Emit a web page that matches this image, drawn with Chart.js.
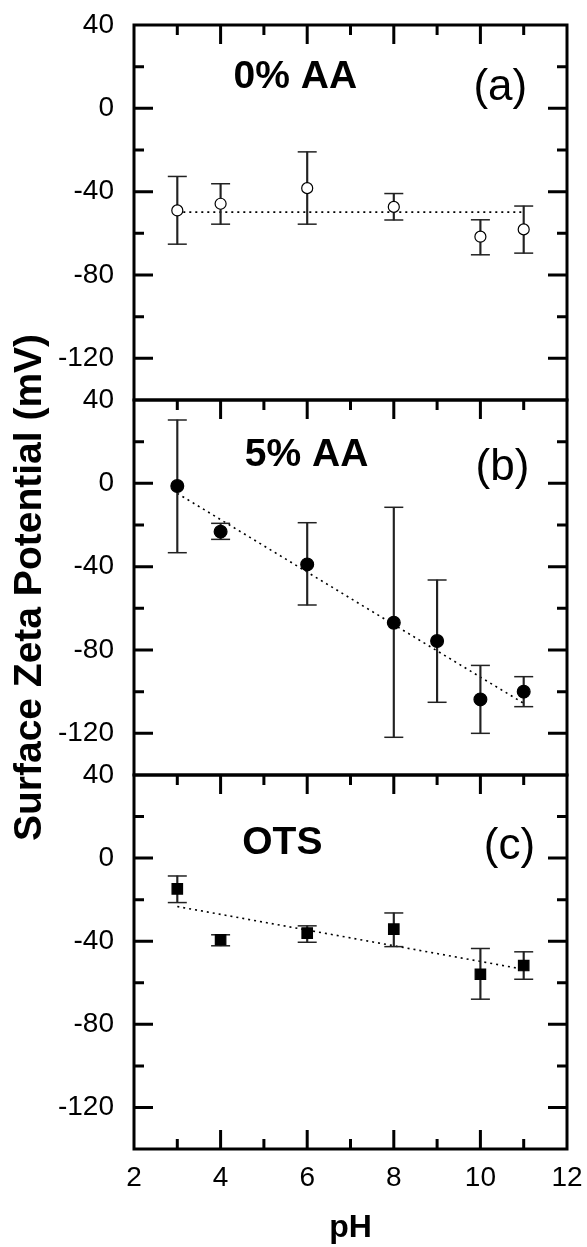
<!DOCTYPE html>
<html>
<head>
<meta charset="utf-8">
<script src="https://cdn.jsdelivr.net/npm/chart.js@4.4.0/dist/chart.umd.min.js"></script>
<style>
  body { margin: 0; background: #fff; }
  #wrap { position: relative; width: 587px; height: 1247px; }
  canvas { position: absolute; left: 0; top: 0; }
</style>
</head>
<body>
<div id="wrap">
  <canvas id="panelA" width="587" height="1247"></canvas>
  <canvas id="panelB" width="587" height="1247"></canvas>
  <canvas id="panelC" width="587" height="1247"></canvas>
</div>
<script>
// (a) 0% AA
const phA = [3, 4, 6, 8, 10, 11];
const zetaA = [-49, -45.8, -38.3, -47.3, -61.6, -58.1];
const lowA = [-65.2, -55.6, -55.6, -53.6, -70.3, -69.5];
const highA = [-32.7, -36.2, -20.9, -40.9, -53.5, -46.9];
const fitA = [[3, -49.8], [11, -49.8]];

// (b) 5% AA
const phB = [3, 4, 6, 8, 9, 10, 11];
const zetaB = [-1.3, -23.2, -38.9, -66.9, -75.7, -103.7, -100];
const lowB = [-33.3, -26.9, -58.4, -121.9, -105.1, -120, -107.2];
const highB = [30.4, -19.2, -18.9, -11.5, -46.4, -87.4, -92.8];
const fitB = [[3, -4.8], [11, -105.6]];

// (c) OTS
const phC = [3, 4, 6, 8, 10, 11];
const zetaC = [-14.8, -39.3, -36.1, -34.2, -55.9, -51.7];
const lowC = [-21.4, -42.2, -40.5, -42.6, -67.9, -58.3];
const highC = [-8.6, -36.9, -32.6, -26.4, -43.5, -45.1];
const fitC = [[3, -23.3], [11, -53.5]];

const xTicks = [2, 4, 6, 8, 10, 12];
const yTicks = [40, 0, -40, -80, -120];

Chart.defaults.font.family = "'Liberation Sans', Arial, sans-serif";
Chart.defaults.color = '#000';

// frame, inward ticks and panel captions
const framePlugin = {
  id: 'frame',
  afterDraw(chart, args, opts) {
    const { ctx, chartArea: a, scales: { x, y } } = chart;
    ctx.save();
    ctx.strokeStyle = '#000';
    ctx.lineWidth = 3;
    ctx.beginPath();
    for (let v = 3; v < 12; v++) {
      const px = x.getPixelForValue(v);
      const len = v % 2 === 0 ? 19 : 10;
      ctx.moveTo(px, a.top); ctx.lineTo(px, a.top + len);
      if (opts.bottomTicks) { ctx.moveTo(px, a.bottom); ctx.lineTo(px, a.bottom - len); }
    }
    for (let v = -120; v < 40; v += 20) {
      const py = y.getPixelForValue(v);
      const len = v % 40 === 0 ? 19 : 10;
      ctx.moveTo(a.left, py); ctx.lineTo(a.left + len, py);
      ctx.moveTo(a.right, py); ctx.lineTo(a.right - len, py);
    }
    ctx.stroke();
    ctx.strokeRect(a.left, a.top, a.right - a.left, a.bottom - a.top);

    ctx.fillStyle = '#000';
    ctx.textBaseline = 'middle';
    ctx.font = "bold 39px 'Liberation Sans', Arial, sans-serif";
    ctx.textAlign = 'left';
    ctx.fillText(opts.name, x.getPixelForValue(opts.nameAt[0]), y.getPixelForValue(opts.nameAt[1]));
    ctx.font = "44px 'Liberation Sans', Arial, sans-serif";
    ctx.textAlign = 'center';
    ctx.fillText(opts.tag, x.getPixelForValue(opts.tagAt[0]), y.getPixelForValue(opts.tagAt[1]));
    ctx.restore();
  }
};

function makePanel(id, p) {
  const caps = [];
  p.ph.forEach((v, i) => {
    caps.push({ x: v, y: p.low[i] });
    caps.push({ x: v, y: p.high[i] });
  });
  new Chart(document.getElementById(id), {
    type: 'scatter',
    plugins: [framePlugin],
    data: {
      datasets: [
        {
          type: 'line',
          data: p.fit.map(f => ({ x: f[0], y: f[1] })),
          borderColor: '#000', borderWidth: 1.6, borderDash: [2, 4],
          pointRadius: 0, order: 3
        },
        {
          type: 'bar',
          data: p.ph.map((v, i) => ({ x: v, y: [p.low[i], p.high[i]] })),
          backgroundColor: '#222', barThickness: 1.5, grouped: false, order: 2
        },
        {
          data: caps,
          pointStyle: 'line', pointRadius: 9.5,
          borderColor: '#222', borderWidth: 1.5, order: 2
        },
        {
          data: p.ph.map((v, i) => ({ x: v, y: p.zeta[i] })),
          pointStyle: p.marker, pointRadius: p.radius,
          backgroundColor: p.fill, borderColor: '#000', borderWidth: 1.2, order: 0
        }
      ]
    },
    options: {
      responsive: false,
      animation: false,
      events: [],
      layout: { padding: { top: p.top, bottom: p.bottom, left: 0, right: 20 } },
      plugins: {
        legend: { display: false },
        tooltip: { enabled: false },
        frame: { name: p.name, nameAt: p.nameAt, tag: p.tag, tagAt: p.tagAt, bottomTicks: p.showX }
      },
      scales: {
        x: {
          type: 'linear', min: 2, max: 12, offset: false, display: p.showX,
          afterBuildTicks: s => { s.ticks = xTicks.map(v => ({ value: v })); },
          afterFit: s => { s.height = p.showX ? 98 : 0; s.paddingLeft = 0; s.paddingRight = 0; },
          grid: { display: false, drawTicks: false }, border: { display: false },
          ticks: { padding: 12, font: { size: 28 }, maxRotation: 0, autoSkip: false },
          title: { display: true, text: 'pH', font: { size: 32, weight: 'bold' }, padding: 0 }
        },
        y: {
          type: 'linear', min: -140, max: 40,
          afterBuildTicks: s => { s.ticks = yTicks.map(v => ({ value: v })); },
          afterFit: s => { s.width = 134; s.paddingTop = 0; s.paddingBottom = 0; },
          grid: { display: false, drawTicks: false }, border: { display: false },
          ticks: { padding: 20, font: { size: 28 }, autoSkip: false },
          title: {
            display: p.yTitle, text: 'Surface Zeta Potential (mV)',
            font: { size: 39, weight: 'bold' }, padding: { top: 7, bottom: 0 }
          }
        }
      }
    }
  });
}

makePanel('panelA', {
  ph: phA, zeta: zetaA, low: lowA, high: highA, fit: fitA,
  marker: 'circle', radius: 5.5, fill: '#fff',
  top: 25, bottom: 847, showX: false, yTitle: false,
  name: '0% AA', nameAt: [4.3, 15], tag: '(a)', tagAt: [10.46, 10]
});
makePanel('panelB', {
  ph: phB, zeta: zetaB, low: lowB, high: highB, fit: fitB,
  marker: 'circle', radius: 6.4, fill: '#000',
  top: 400, bottom: 472, showX: false, yTitle: true,
  name: '5% AA', nameAt: [4.56, 13.6], tag: '(b)', tagAt: [10.51, 7.5]
});
makePanel('panelC', {
  ph: phC, zeta: zetaC, low: lowC, high: highC, fit: fitC,
  marker: 'rect', radius: 7.4, fill: '#000',
  top: 775, bottom: 0, showX: true, yTitle: false,
  name: 'OTS', nameAt: [4.5, 7], tag: '(c)', tagAt: [10.67, 5.2]
});
</script>
</body>
</html>
